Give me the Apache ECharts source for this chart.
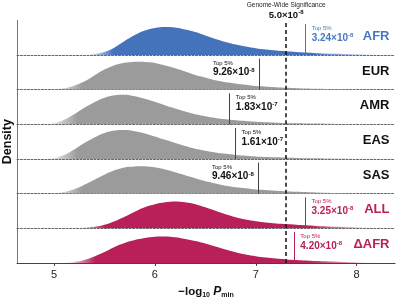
<!DOCTYPE html>
<html>
<head>
<meta charset="utf-8">
<script src="https://cdn.jsdelivr.net/npm/echarts@6/dist/echarts.min.js"></script>
<style>
  html, body { margin: 0; padding: 0; background: #fff; }
  #chart { width: 396px; height: 301px; }
</style>
</head>
<body>
<div id="chart"></div>
<script>
// population rows, top to bottom
const populations = ['AFR', 'EUR', 'AMR', 'EAS', 'SAS', 'ALL', 'ΔAFR'];

// densities: [-log10 Pmin, density]
const afr = [[5.3,0],[5.4,1],[5.5,3],[5.6,7.5],[5.7,14],[5.8,20],[5.9,24.5],[6.0,27],[6.1,28],[6.2,27.5],[6.3,25.5],[6.4,23],[6.5,19.5],[6.6,16],[6.7,13],[6.8,10.5],[6.9,8.5],[7.0,6.8],[7.1,5.5],[7.2,4.5],[7.3,3.7],[7.4,3],[7.5,2.4],[7.6,1.8],[7.8,1.1],[8.0,0.6],[8.2,0.3]];
const eur = [[4.95,0],[5.05,0.8],[5.15,2.5],[5.25,6],[5.35,11],[5.45,17.5],[5.55,22.5],[5.65,26],[5.75,27.5],[5.85,28],[5.95,27.3],[6.05,25.5],[6.15,23],[6.25,20],[6.35,16.5],[6.45,13.3],[6.55,10.7],[6.65,8.5],[6.75,6.8],[6.85,5.3],[6.95,4.2],[7.05,3.3],[7.2,2.4],[7.4,1.5],[7.6,1],[7.8,0.6],[8.0,0.3],[8.25,0.1]];
const amr = [[4.9,0],[5.0,1],[5.1,4.5],[5.2,10],[5.3,16.5],[5.4,22],[5.5,26.5],[5.6,29],[5.7,29.5],[5.8,28],[5.9,25.5],[6.0,22.5],[6.1,19],[6.2,15.8],[6.3,12.8],[6.4,10],[6.5,8],[6.6,6.3],[6.7,5],[6.8,4],[6.9,3.2],[7.0,2.5],[7.2,1.6],[7.4,1],[7.6,0.7],[7.8,0.4],[8.0,0.2],[8.25,0.1]];
const eas = [[4.9,0],[5.0,1],[5.1,4],[5.2,9.5],[5.3,16],[5.4,21.5],[5.5,26],[5.6,28.5],[5.7,29],[5.8,27.8],[5.9,25.5],[6.0,22.5],[6.1,19.2],[6.2,16],[6.3,13],[6.4,10.3],[6.5,8.2],[6.6,6.5],[6.7,5.2],[6.8,4.1],[6.9,3.3],[7.0,2.6],[7.2,1.7],[7.4,1.1],[7.6,0.7],[7.8,0.4],[8.0,0.2],[8.25,0.1]];
const sas = [[4.95,0],[5.05,1],[5.15,3],[5.25,6.5],[5.35,11.5],[5.45,16.5],[5.55,21.5],[5.65,25],[5.75,26.8],[5.85,27.5],[5.95,27],[6.05,25.5],[6.15,23],[6.25,20],[6.35,17],[6.45,14],[6.55,11.3],[6.65,9],[6.75,7.2],[6.85,5.8],[6.95,4.7],[7.05,3.8],[7.2,2.8],[7.4,1.8],[7.6,1.2],[7.8,0.7],[8.0,0.4],[8.25,0.1]];
const all = [[5.2,0],[5.3,0.5],[5.4,1.5],[5.5,3.5],[5.6,7],[5.7,11.5],[5.8,16.5],[5.9,21],[6.0,24],[6.1,26],[6.2,26.8],[6.3,26],[6.4,24],[6.5,21],[6.6,17.5],[6.7,14],[6.8,11],[6.9,8.7],[7.0,7],[7.1,5.8],[7.2,4.9],[7.3,4.2],[7.4,3.6],[7.5,3],[7.6,2.4],[7.8,1.5],[8.0,0.8],[8.2,0.3]];
const dafr = [[5.1,0],[5.2,1],[5.3,3],[5.4,6.5],[5.5,11],[5.6,16],[5.7,20],[5.8,23],[5.9,25],[6.0,26.3],[6.1,26.5],[6.2,25.7],[6.3,24],[6.4,22],[6.5,19.5],[6.6,16.5],[6.7,13.5],[6.8,10.8],[6.9,8.5],[7.0,6.8],[7.1,5.4],[7.2,4.4],[7.3,3.6],[7.4,3],[7.5,2.4],[7.6,1.9],[7.8,1.2],[8.0,0.6],[8.2,0.2]];
const densities = [afr, eur, amr, eas, sas, all, dafr];

// top 5% P values, and genome-wide significance
const topP = [3.24e-8, 9.26e-8, 1.83e-7, 1.61e-7, 9.46e-8, 3.25e-8, 4.20e-8];
const topSide = ['right', 'left', 'right', 'right', 'left', 'right', 'right'];
const sigP = 5.0e-8;
const xTicks = [5, 6, 7, 8];

const BLUE = '#4472bb', GRAY = '#9b9b9b', RED = '#b9205a';
const fillColors = [BLUE, GRAY, GRAY, GRAY, GRAY, RED, RED];
const textColors = ['#4a78c0', '#111', '#111', '#111', '#111', RED, RED];
const markColors = ['#4a78c0', '#444', '#444', '#444', '#444', RED, RED];

const X_MIN = 4.633, X_MAX = 8.38;
const TOP = 20.3, ROW_H = 34.67;
const FONT = 'Liberation Sans';

function sci(p, digits){
    const e = Math.floor(Math.log10(p) + 1e-9);
    const m = p / Math.pow(10, e);
    return {m: m.toFixed(digits), e: '-' + Math.abs(e)};
}

function fade(color){
    return new echarts.graphic.LinearGradient(0, 0, 1, 0, [
        {offset: 0, color: echarts.color.modifyAlpha(color, 0)},
        {offset: 0.1, color: color},
        {offset: 0.78, color: color},
        {offset: 1, color: echarts.color.modifyAlpha(color, 0.1)}
    ]);
}

const sigX = -Math.log10(sigP);
const grids = [], xAxes = [], yAxes = [], series = [];

populations.forEach((name, i) => {
    const last = i === populations.length - 1;
    grids.push({left: 17, right: 1, top: TOP + i * ROW_H, height: ROW_H, containLabel: false, outerBoundsMode: 'none'});

    xAxes.push({
        type: 'value', gridIndex: i, min: X_MIN, max: X_MAX,
        axisLine: {show: true, onZero: false, lineStyle: last ? {color: '#444', width: 1} : {color: '#666', width: 1, type: [2, 1.5]}},
        axisTick: last ? {show: true, customValues: xTicks, length: 3, lineStyle: {color: '#444'}} : {show: false},
        axisLabel: last ? {show: true, customValues: xTicks, fontSize: 11, color: '#222', margin: 6, fontFamily: FONT} : {show: false},
        splitLine: {show: false},
        name: last ? '{a|−log}{s|10} {p|P}{s|min}' : '',
        nameLocation: 'middle',
        nameGap: 22,
        nameTextStyle: {
            rich: {
                a: {fontSize: 11.5, fontWeight: 'bold', color: '#111', fontFamily: FONT, lineHeight: 14},
                p: {fontSize: 12, fontWeight: 'bold', fontStyle: 'italic', color: '#111', fontFamily: FONT, lineHeight: 14},
                s: {fontSize: 7, fontWeight: 'bold', color: '#111', fontFamily: FONT, lineHeight: 7, verticalAlign: 'bottom'}
            }
        }
    });

    yAxes.push({
        type: 'value', gridIndex: i, min: 0, max: ROW_H,
        axisLine: {show: true, lineStyle: {color: '#777', width: 1}},
        axisTick: {show: false}, axisLabel: {show: false}, splitLine: {show: false},
        name: i === 3 ? 'Density' : '',
        nameLocation: 'middle', nameGap: 3,
        nameTextStyle: {fontSize: 12.5, fontWeight: 'bold', color: '#111', fontFamily: FONT}
    });

    const tx = -Math.log10(topP[i]);
    const t = sci(topP[i], 2);
    const side = topSide[i];
    const c = textColors[i];

    const points = [
        {
            coord: [tx, 30.5],
            label: {
                show: true, position: side, distance: side === 'right' ? 6 : 4,
                verticalAlign: 'top', align: side === 'right' ? 'left' : 'right',
                formatter: '{a|Top 5%}\n{b|' + t.m + '×10}{c|' + t.e + '}',
                rich: {
                    a: {fontSize: 6, lineHeight: 8, color: c, fontFamily: FONT, align: 'left'},
                    b: {fontSize: 10, lineHeight: 11, fontWeight: 'bold', color: c, fontFamily: FONT, align: 'left'},
                    c: {fontSize: 6, lineHeight: 6, fontWeight: 'bold', color: c, fontFamily: FONT, align: 'left', verticalAlign: 'top'}
                }
            }
        },
        {
            coord: [8.33, 18.5],
            label: {show: true, position: 'left', distance: 0, formatter: name, fontSize: 13, fontWeight: 'bold', color: c, fontFamily: FONT}
        }
    ];
    if(i === 0){
        const s = sci(sigP, 1);
        points.push({
            coord: [sigX, ROW_H],
            label: {
                show: true, position: 'top', distance: -1,
                formatter: '{g|Genome-Wide Significance}\n{v|' + s.m + '×10}{s|' + s.e + '}',
                rich: {
                    g: {fontSize: 6.5, lineHeight: 10, color: '#222', fontFamily: FONT},
                    v: {fontSize: 9.5, lineHeight: 11, fontWeight: 'bold', color: '#111', fontFamily: FONT},
                    s: {fontSize: 6, lineHeight: 6, fontWeight: 'bold', color: '#111', fontFamily: FONT, verticalAlign: 'top'}
                }
            }
        });
    }

    series.push({
        name: name, type: 'line', xAxisIndex: i, yAxisIndex: i,
        data: densities[i], smooth: 0.4, symbol: 'none',
        lineStyle: {width: 0},
        areaStyle: {color: fade(fillColors[i]), opacity: 1},
        markLine: {
            silent: true, symbol: 'none', label: {show: false},
            data: [
                [{coord: [tx, 0], lineStyle: {color: markColors[i], width: 1, type: 'solid'}}, {coord: [tx, 31]}],
                {xAxis: sigX, lineStyle: {color: '#111', width: 1.5, type: [4, 3]}}
            ]
        },
        markPoint: {
            silent: true, symbol: 'rect', symbolSize: 1,
            itemStyle: {color: 'rgba(0,0,0,0)'},
            data: points
        }
    });
});

const chart = echarts.init(document.getElementById('chart'));
chart.setOption({
    animation: false,
    textStyle: {fontFamily: FONT},
    grid: grids,
    xAxis: xAxes,
    yAxis: yAxes,
    series: series
});
</script>
</body>
</html>
